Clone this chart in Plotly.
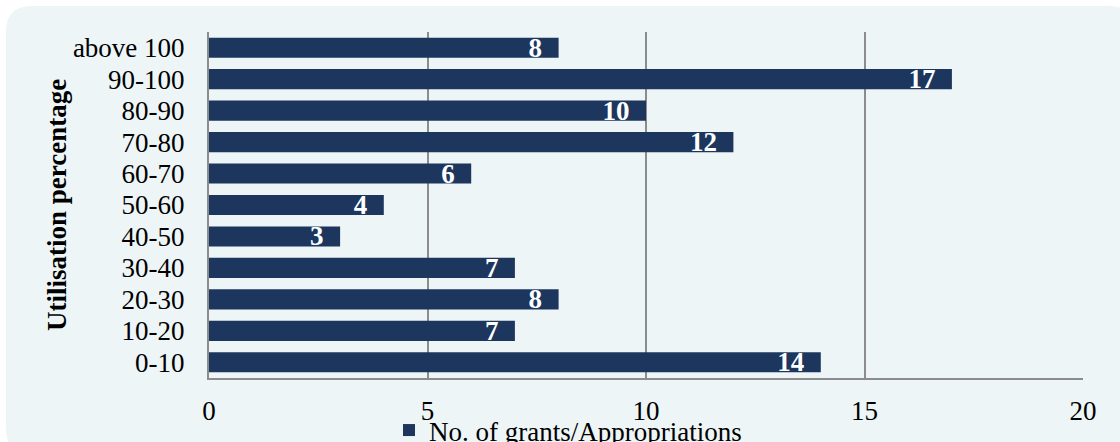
import plotly.graph_objects as go

categories = ["0-10", "10-20", "20-30", "30-40", "40-50", "50-60", "60-70",
              "70-80", "80-90", "90-100", "above 100"]
values = [14, 7, 8, 7, 3, 4, 6, 12, 10, 17, 8]
series_name = "No. of grants/Appropriations"

W, H = 1120, 442
L, R, T, B = 209, 37, 32, 64
pw, ph = W - L - R, H - T - B

def px(x):
    return (x - L) / pw

def py(y):
    return (H - B - y) / ph

navy = "#1c365d"
bg = "#edf5f7"
grid = "#8c8c8c"
font = "Liberation Serif"
fs = 27

fig = go.Figure()
fig.add_trace(go.Bar(
    y=categories, x=values, orientation="h", name=series_name,
    marker=dict(color=navy, line=dict(width=0)),
    text=[f"{v}&nbsp;&nbsp;" for v in values], textposition="inside",
    insidetextanchor="end", textangle=0, constraintext="none",
    textfont=dict(family=font, size=fs, color="white", weight="bold"),
    width=0.64, showlegend=True,
))

# rounded background panel
x0, x1, y0, y1 = 6, 1135, 6, 455
r = 26
path = (f"M {px(x0+r)},{py(y0)} L {px(x1-r)},{py(y0)} "
        f"Q {px(x1)},{py(y0)} {px(x1)},{py(y0+r)} "
        f"L {px(x1)},{py(y1-r)} Q {px(x1)},{py(y1)} {px(x1-r)},{py(y1)} "
        f"L {px(x0+r)},{py(y1)} Q {px(x0)},{py(y1)} {px(x0)},{py(y1-r)} "
        f"L {px(x0)},{py(y0+r)} Q {px(x0)},{py(y0)} {px(x0+r)},{py(y0)} Z")

fig.update_layout(
    width=W, height=H,
    margin=dict(l=L, r=R, t=T, b=B, pad=0, autoexpand=False),
    paper_bgcolor="white", plot_bgcolor="rgba(0,0,0,0)",
    font=dict(family=font, size=fs, color="black"),
    uniformtext=dict(mode=False),
    shapes=[dict(type="path", xref="paper", yref="paper", path=path,
                 fillcolor=bg, line=dict(width=0), layer="below")],
    xaxis=dict(range=[0, 20], tickvals=[0, 5, 10, 15, 20],
               showgrid=True, gridcolor=grid, gridwidth=2,
               showline=True, linecolor=grid, linewidth=2,
               zeroline=False, ticks="", ticklabelstandoff=8,
               tickfont=dict(family=font, size=fs)),
    yaxis=dict(categoryorder="array", categoryarray=categories,
               tickmode="array", tickvals=categories, ticktext=categories,
               showline=True, linecolor=grid, linewidth=2,
               showgrid=False, zeroline=False, ticks="",
               ticklabelstandoff=17,
               tickfont=dict(family=font, size=fs)),
    bargap=0.36,
    legend=dict(orientation="h", x=px(389), xanchor="left",
                y=py(406), yanchor="top", bgcolor="rgba(0,0,0,0)",
                font=dict(family=font, size=fs), itemwidth=30,
                traceorder="normal"),
    annotations=[dict(text="<b>Utilisation percentage</b>", textangle=-90,
                      xref="paper", yref="paper", x=px(57), y=0.5,
                      xanchor="center", yanchor="middle", showarrow=False,
                      font=dict(family=font, size=fs))],
)

fig.write_html("out.html")
